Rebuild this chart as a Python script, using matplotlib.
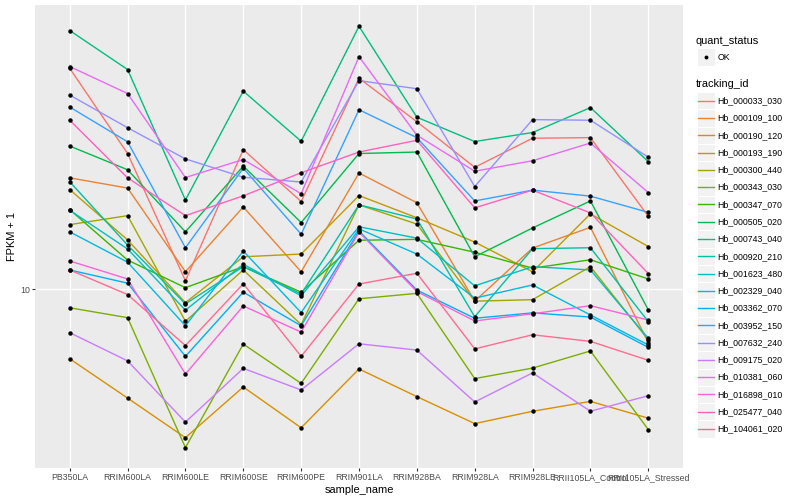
import matplotlib
matplotlib.use("Agg")
import matplotlib.pyplot as plt
import numpy as np
from matplotlib.patches import Rectangle
from matplotlib.ticker import NullLocator

plt.rcParams['font.family'] = ['Liberation Sans', 'DejaVu Sans']

samples = ["PB350LA", "RRIM600LA", "RRIM600LE", "RRIM600SE", "RRIM600PE", "RRIM901LA",
           "RRIM928BA", "RRIM928LA", "RRIM928LE", "RRII105LA_Control", "RRII105LA_Stressed"]

tracking_ids = ["Hb_000033_030", "Hb_000109_100", "Hb_000190_120", "Hb_000193_190",
                "Hb_000300_440", "Hb_000343_030", "Hb_000347_070", "Hb_000505_020",
                "Hb_000743_040", "Hb_000920_210", "Hb_001623_480", "Hb_002329_040",
                "Hb_003362_070", "Hb_003952_150", "Hb_007632_240", "Hb_009175_020",
                "Hb_010381_060", "Hb_016898_010", "Hb_025477_040", "Hb_104061_020"]

# ggplot default hue palette for 20 groups
colors = ["#F8766D", "#EA8331", "#D89000", "#C09B00", "#A3A500", "#7CAE00", "#39B600",
          "#00BB4E", "#00BF7D", "#00C1A3", "#00BFC4", "#00BAE0", "#00B0F6", "#35A2FF",
          "#9590FF", "#C77CFF", "#E76BF3", "#FA62DB", "#FF62BC", "#FF6C91"]

# log10(FPKM + 1) per sample
hb_000033_030 = [1.737, 1.453, 1.029, 1.466, 1.293, 1.704, 1.559, 1.407, 1.504, 1.506, 1.244]
hb_000109_100 = [1.372, 1.338, 1.059, 1.275, 1.059, 1.388, 1.289, 0.961, 1.138, 1.207, 0.823]
hb_000190_120 = [0.769, 0.638, 0.506, 0.675, 0.539, 0.735, 0.643, 0.553, 0.594, 0.627, 0.571]
hb_000193_190 = [1.333, 1.165, 0.956, 1.109, 1.118, 1.313, 1.239, 1.158, 1.059, 1.252, 1.143]
hb_000300_440 = [1.216, 1.246, 0.894, 1.065, 0.883, 1.282, 1.218, 0.961, 0.966, 1.076, 0.832]
hb_000343_030 = [0.939, 0.906, 0.473, 0.818, 0.687, 0.969, 0.987, 0.703, 0.738, 0.795, 0.533]
hb_000347_070 = [1.266, 1.098, 1.006, 1.076, 0.991, 1.164, 1.167, 1.124, 1.071, 1.099, 1.035]
hb_000505_020 = [1.478, 1.399, 1.192, 1.411, 1.223, 1.453, 1.458, 1.109, 1.205, 1.295, 0.932]
hb_000743_040 = [1.863, 1.733, 1.298, 1.661, 1.494, 1.877, 1.574, 1.493, 1.523, 1.606, 1.426]
hb_000920_210 = [1.359, 1.148, 0.952, 1.076, 0.985, 1.282, 1.235, 0.909, 1.136, 1.139, 0.893]
hb_001623_480 = [1.264, 1.135, 0.931, 1.084, 0.979, 1.209, 1.171, 1.012, 1.076, 1.065, 0.837]
hb_002329_040 = [1.192, 1.091, 0.879, 1.128, 0.923, 1.202, 1.118, 0.971, 1.015, 0.915, 0.815]
hb_003362_070 = [1.065, 1.021, 0.777, 0.991, 0.879, 1.195, 0.998, 0.904, 0.922, 0.908, 0.807]
hb_003952_150 = [1.608, 1.492, 1.139, 1.404, 1.184, 1.599, 1.506, 1.295, 1.331, 1.311, 1.257]
hb_007632_240 = [1.648, 1.539, 1.435, 1.374, 1.358, 1.696, 1.669, 1.343, 1.566, 1.564, 1.441]
hb_009175_020 = [0.856, 0.762, 0.558, 0.737, 0.665, 0.819, 0.798, 0.625, 0.722, 0.594, 0.646]
hb_010381_060 = [1.743, 1.653, 1.373, 1.433, 1.319, 1.776, 1.514, 1.394, 1.429, 1.488, 1.323]
hb_016898_010 = [1.095, 1.035, 0.718, 0.945, 0.858, 1.191, 0.993, 0.895, 0.919, 0.946, 0.898]
hb_025477_040 = [1.564, 1.372, 1.246, 1.312, 1.389, 1.458, 1.497, 1.272, 1.331, 1.255, 1.053]
hb_104061_020 = [1.065, 0.983, 0.813, 1.019, 0.777, 1.018, 1.054, 0.802, 0.849, 0.827, 0.764]

series = [hb_000033_030, hb_000109_100, hb_000190_120, hb_000193_190, hb_000300_440,
          hb_000343_030, hb_000347_070, hb_000505_020, hb_000743_040, hb_000920_210,
          hb_001623_480, hb_002329_040, hb_003362_070, hb_003952_150, hb_007632_240,
          hb_009175_020, hb_010381_060, hb_016898_010, hb_025477_040, hb_104061_020]

fig = plt.figure(figsize=(8, 5), dpi=100)
ax = fig.add_axes([35 / 800, 32 / 500, 648 / 800, 463 / 500])
ax.set_facecolor("#EBEBEB")
for sp in ax.spines.values():
    sp.set_visible(False)

x = np.arange(len(samples))
for vals, col in zip(series, colors):
    ax.plot(x, np.power(10, vals), color=col, lw=1.0, zorder=2)
for vals in series:
    ax.plot(x, np.power(10, vals), "o", color="black", ms=3.2, mew=0, zorder=3)

ax.set_yscale("log")
ax.set_ylim(10 ** 0.405, 10 ** 1.948)
ax.set_xlim(-0.6, len(samples) - 0.4)
ax.set_xticks(x)
ax.set_xticklabels(samples)
ax.set_yticks([10])
ax.set_yticklabels(["10"])
ax.yaxis.set_minor_locator(NullLocator())
ax.grid(True, color="white", lw=1.0)
ax.set_axisbelow(True)
ax.tick_params(length=2, width=0.8, color="#333333", labelsize=6.3, labelcolor="#4D4D4D", pad=1.5)
ax.set_xlabel("sample_name", fontsize=7.9, labelpad=2)
ax.set_ylabel("FPKM + 1", fontsize=7.9, labelpad=2)

# legend drawn in pixel coordinates
lax = fig.add_axes([0, 0, 1, 1], zorder=5)
lax.set_xlim(0, 800)
lax.set_ylim(500, 0)
lax.axis("off")

kx, ks = 697.3, 17.3
lax.text(696, 40.7, "quant_status", fontsize=7.9, va="center", ha="left")
lax.add_patch(Rectangle((kx, 57 - ks / 2), ks, ks, facecolor="#F2F2F2", edgecolor="white", lw=0.8))
lax.plot([kx + ks / 2], [57], "o", color="black", ms=2.8, mew=0)
lax.text(717.5, 57, "OK", fontsize=6.3, va="center", ha="left")

lax.text(696, 84, "tracking_id", fontsize=7.9, va="center", ha="left")
for i, (tid, col) in enumerate(zip(tracking_ids, colors)):
    cy = 100.7 + i * 17.28
    lax.add_patch(Rectangle((kx, cy - ks / 2), ks, ks, facecolor="#F2F2F2", edgecolor="white", lw=0.8))
    lax.plot([kx + 1, kx + ks - 1], [cy, cy], color=col, lw=1.0)
    lax.text(717.5, cy, tid, fontsize=6.3, va="center", ha="left")

fig.savefig("out.png", dpi=100)
